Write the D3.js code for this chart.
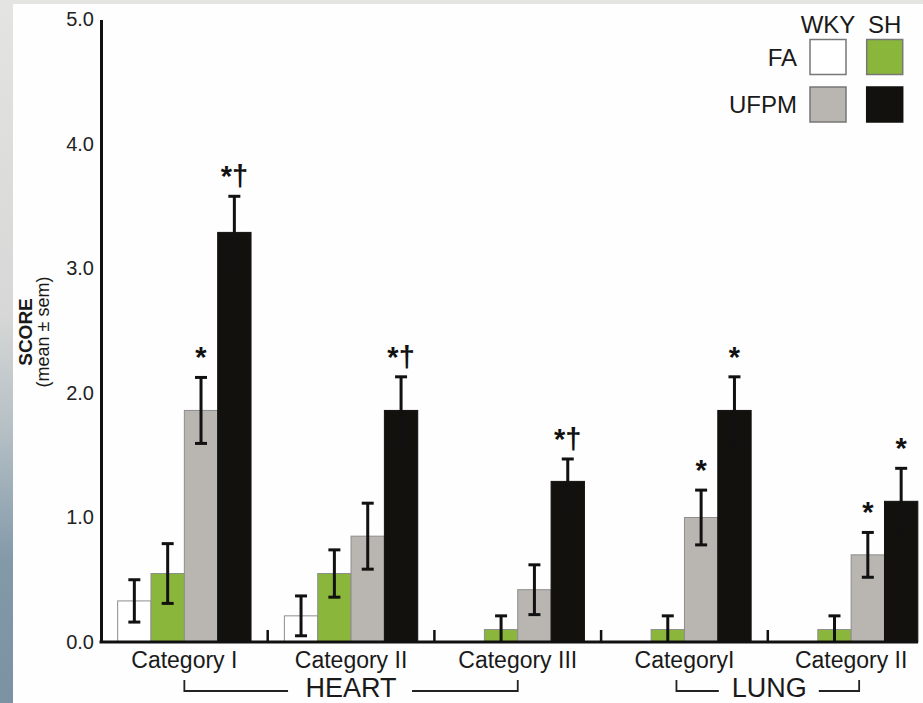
<!DOCTYPE html>
<html>
<head>
<meta charset="utf-8">
<script src="https://cdn.jsdelivr.net/npm/d3@7"></script>
<style>
  html, body { margin: 0; padding: 0; }
  body {
    width: 923px; height: 703px; overflow: hidden;
    background: linear-gradient(to bottom, #e4e4e2 0%, #d6d7d6 45%, #b3bec4 62%, #8299a8 80%, #7a92a2 100%);
  }
  #panel { position: absolute; left: 13px; top: 4px; width: 910px; height: 699px; background: #fefefe; }
  svg { position: absolute; left: 0; top: 0; font-family: "Liberation Sans", Arial, sans-serif; }
</style>
</head>
<body>
<div id="panel"></div>
<svg width="923" height="703"></svg>
<script>
// categories along the x axis (organ groups below)
const catLabels = ["Category I", "Category II", "Category III", "CategoryI", "Category II"];
const organs = [{ name: "HEART", from: 0, to: 2 }, { name: "LUNG", from: 3, to: 4 }];

// series: strain x exposure
const series = ["WKY FA", "SH FA", "WKY UFPM", "SH UFPM"];
const seriesColor = ["#ffffff", "#8ab73b", "#b9b5b1", "#12110e"];

// mean scores
const wkyFA   = [0.33, 0.21, 0, 0, 0];
const shFA    = [0.55, 0.55, 0.10, 0.10, 0.10];
const wkyUFPM = [1.86, 0.85, 0.42, 1.00, 0.70];
const shUFPM  = [3.29, 1.86, 1.29, 1.86, 1.13];

// sem
const wkyFAsem   = [0.17, 0.16, 0, 0, 0];
const shFAsem    = [0.24, 0.19, 0.11, 0.11, 0.11];
const wkyUFPMsem = [0.265, 0.265, 0.20, 0.22, 0.18];
const shUFPMsem  = [0.29, 0.27, 0.18, 0.27, 0.265];

// significance marks
const wkyUFPMsig = ["*", "", "", "*", "*"];
const shUFPMsig  = ["*†", "*†", "*†", "*", "*"];

const yTicks = [0, 1, 2, 3, 4, 5];

const means = [wkyFA, shFA, wkyUFPM, shUFPM];
const sems = [wkyFAsem, shFAsem, wkyUFPMsem, shUFPMsem];
const sigs = [null, null, wkyUFPMsig, shUFPMsig];

const rows = [];
catLabels.forEach((c, ci) => {
    series.forEach((s, si) => {
        rows.push({ ci, si, mean: means[si][ci], sem: sems[si][ci], sig: sigs[si] ? sigs[si][ci] : "" });
    });
});

const svg = d3.select("svg");
const axisLeftX = 101, baseY = 642;

const y = d3.scaleLinear().domain([0, 5]).range([baseY, 19.5]);
const x = d3.scaleBand().domain(d3.range(catLabels.length))
    .range([axisLeftX, axisLeftX + 5 * 166.7])
    .paddingInner(0.2).paddingOuter(0.1);
const xs = d3.scaleBand().domain(d3.range(series.length)).range([0, x.bandwidth()]);

// bars
svg.append("g").selectAll("rect")
    .data(rows.filter(d => d.mean > 0))
    .join("rect")
    .attr("x", d => x(d.ci) + xs(d.si))
    .attr("y", d => y(d.mean))
    .attr("width", xs.bandwidth())
    .attr("height", d => y(0) - y(d.mean))
    .attr("fill", d => seriesColor[d.si])
    .attr("stroke", d => d.si === 3 ? "#12110e" : "#8d8d8d")
    .attr("stroke-width", 1);

// error bars
const eb = svg.append("g").attr("stroke", "#111").attr("stroke-width", 3);
rows.filter(d => d.sem > 0).forEach(d => {
    const cx = x(d.ci) + xs(d.si) + xs.bandwidth() / 2;
    const lo = Math.max(0, d.mean - d.sem), hi = d.mean + d.sem;
    eb.append("line").attr("x1", cx).attr("x2", cx).attr("y1", y(lo)).attr("y2", y(hi));
    eb.append("line").attr("x1", cx - 6).attr("x2", cx + 6).attr("y1", y(hi)).attr("y2", y(hi));
    if (d.mean - d.sem > 0)
        eb.append("line").attr("x1", cx - 6).attr("x2", cx + 6).attr("y1", y(lo)).attr("y2", y(lo));
});

// significance marks
svg.append("g").selectAll("text")
    .data(rows.filter(d => d.sig))
    .join("text")
    .attr("x", d => x(d.ci) + xs(d.si) + xs.bandwidth() / 2)
    .attr("y", d => y(d.mean + d.sem) - 10)
    .attr("text-anchor", "middle")
    .attr("font-size", 29)
    .attr("font-weight", "bold")
    .attr("fill", "#111")
    .text(d => d.sig);

// y axis
const yAxis = svg.append("g")
    .attr("transform", `translate(${axisLeftX},0)`)
    .call(d3.axisLeft(y).tickValues(yTicks).tickFormat(d3.format(".1f")).tickSize(0).tickPadding(7));
yAxis.select(".domain").attr("stroke", "#111").attr("stroke-width", 3);
yAxis.selectAll("text").attr("font-size", 20).attr("fill", "#222").attr("font-family", "Liberation Sans, Arial, sans-serif");

// x axis line and separators
svg.append("line")
    .attr("x1", axisLeftX - 1.5).attr("x2", 918)
    .attr("y1", baseY).attr("y2", baseY)
    .attr("stroke", "#111").attr("stroke-width", 3);
svg.append("g").selectAll("line")
    .data(d3.range(1, catLabels.length))
    .join("line")
    .attr("x1", d => x(d) - x.step() * 0.1).attr("x2", d => x(d) - x.step() * 0.1)
    .attr("y1", baseY).attr("y2", baseY - 12)
    .attr("stroke", "#111").attr("stroke-width", 2.5);

// category labels
svg.append("g").selectAll("text")
    .data(catLabels)
    .join("text")
    .attr("x", (d, i) => x(i) + x.bandwidth() / 2)
    .attr("y", 667.5)
    .attr("text-anchor", "middle")
    .attr("font-size", 23)
    .attr("fill", "#1a1a1a")
    .text(d => d);

// organ brackets
const bracketGap = { HEART: [63, 61], LUNG: [49, 51] };
organs.forEach(o => {
    const x0 = x(o.from) + x.bandwidth() / 2 + (o.name === "LUNG" ? -8 : 0);
    const x1 = x(o.to) + x.bandwidth() / 2 + (o.name === "LUNG" ? 8 : 0);
    const mid = (x(o.from) + x(o.to) + x.bandwidth()) / 2;
    const g = svg.append("g").attr("stroke", "#222").attr("stroke-width", 1.8).attr("fill", "none");
    g.append("path").attr("d", `M${x0},680V691H${mid - bracketGap[o.name][0]}`);
    g.append("path").attr("d", `M${mid + bracketGap[o.name][1]},691H${x1}V680`);
    svg.append("text")
        .attr("x", mid + (o.name === "LUNG" ? 1.5 : 0)).attr("y", 697)
        .attr("text-anchor", "middle")
        .attr("font-size", 27)
        .attr("fill", "#1a1a1a")
        .text(o.name);
});

// y axis title
const yt = svg.append("text")
    .attr("transform", "translate(32,332) rotate(-90)")
    .attr("text-anchor", "middle")
    .attr("fill", "#1a1a1a");
yt.append("tspan").attr("x", 0).attr("font-size", 19).attr("font-weight", "bold").text("SCORE");
yt.append("tspan").attr("x", 0).attr("dy", 17).attr("font-size", 18).text("(mean ± sem)");

// legend
const legCols = ["WKY", "SH"], legRows = ["FA", "UFPM"];
const lx = [810, 866.7], ly = [39.5, 87];
const leg = svg.append("g").attr("font-size", 24).attr("fill", "#1a1a1a");
legCols.forEach((c, i) => {
    leg.append("text").attr("x", lx[i] + 18).attr("y", 33).attr("text-anchor", "middle").text(c);
});
legRows.forEach((r, j) => {
    leg.append("text").attr("x", 797).attr("y", ly[j] + 26).attr("text-anchor", "end").text(r);
    legCols.forEach((c, i) => {
        const si = j * 2 + i;
        leg.append("rect")
            .attr("x", lx[i]).attr("y", ly[j])
            .attr("width", 36).attr("height", 35)
            .attr("fill", seriesColor[si])
            .attr("stroke", si === 3 ? "#12110e" : "#777")
            .attr("stroke-width", 1.5);
    });
});
</script>
</body>
</html>
